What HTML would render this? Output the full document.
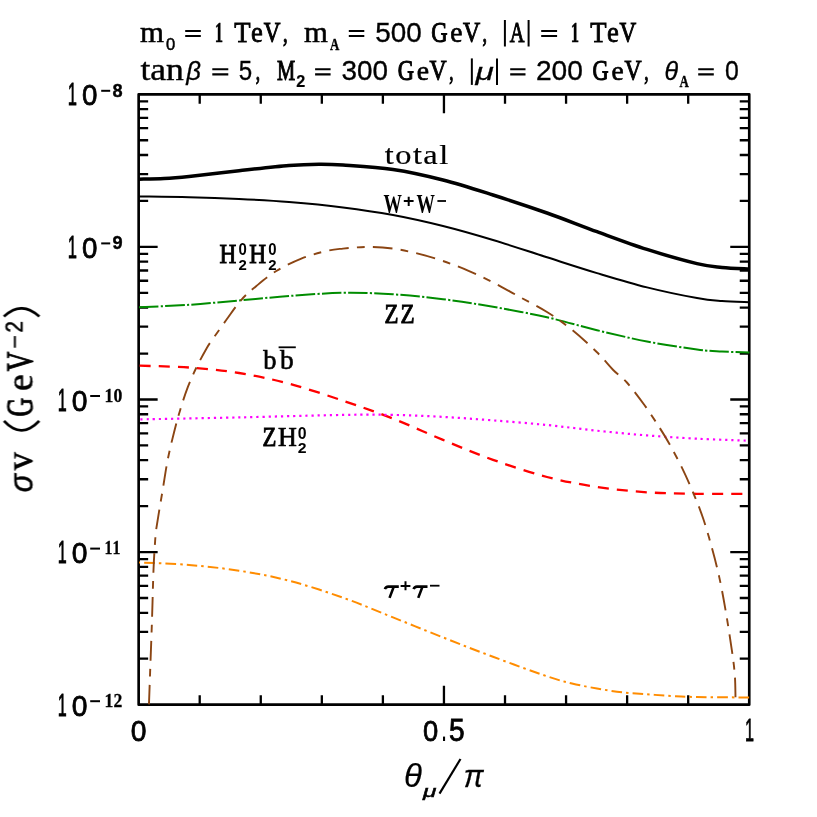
<!DOCTYPE html>
<html><head><meta charset="utf-8"><title>plot</title>
<style>
html,body{margin:0;padding:0;background:#fff;}
body{width:817px;height:817px;overflow:hidden;}
svg{display:block;}
text{font-family:"Liberation Serif",serif;fill:#000;font-kerning:none;font-variant-ligatures:none;}
.sans{font-family:"Liberation Sans",sans-serif;}
</style></head><body>
<svg width="817" height="817" viewBox="0 0 817 817">
<rect x="0" y="0" width="817" height="817" fill="#ffffff"/>

<path d="M138.65 200.95 L148.15 200.95 M749.25 200.95 L739.75 200.95 M138.65 174.08 L148.15 174.08 M749.25 174.08 L739.75 174.08 M138.65 155.02 L148.15 155.02 M749.25 155.02 L739.75 155.02 M138.65 140.23 L148.15 140.23 M749.25 140.23 L739.75 140.23 M138.65 128.15 L148.15 128.15 M749.25 128.15 L739.75 128.15 M138.65 117.94 L148.15 117.94 M749.25 117.94 L739.75 117.94 M138.65 109.09 L148.15 109.09 M749.25 109.09 L739.75 109.09 M138.65 101.28 L148.15 101.28 M749.25 101.28 L739.75 101.28 M138.65 246.89 L157.65 246.89 M749.25 246.89 L730.25 246.89 M138.65 353.54 L148.15 353.54 M749.25 353.54 L739.75 353.54 M138.65 326.67 L148.15 326.67 M749.25 326.67 L739.75 326.67 M138.65 307.61 L148.15 307.61 M749.25 307.61 L739.75 307.61 M138.65 292.82 L148.15 292.82 M749.25 292.82 L739.75 292.82 M138.65 280.74 L148.15 280.74 M749.25 280.74 L739.75 280.74 M138.65 270.52 L148.15 270.52 M749.25 270.52 L739.75 270.52 M138.65 261.67 L148.15 261.67 M749.25 261.67 L739.75 261.67 M138.65 253.87 L148.15 253.87 M749.25 253.87 L739.75 253.87 M138.65 399.48 L157.65 399.48 M749.25 399.48 L730.25 399.48 M138.65 506.13 L148.15 506.13 M749.25 506.13 L739.75 506.13 M138.65 479.26 L148.15 479.26 M749.25 479.26 L739.75 479.26 M138.65 460.20 L148.15 460.20 M749.25 460.20 L739.75 460.20 M138.65 445.41 L148.15 445.41 M749.25 445.41 L739.75 445.41 M138.65 433.33 L148.15 433.33 M749.25 433.33 L739.75 433.33 M138.65 423.11 L148.15 423.11 M749.25 423.11 L739.75 423.11 M138.65 414.26 L148.15 414.26 M749.25 414.26 L739.75 414.26 M138.65 406.46 L148.15 406.46 M749.25 406.46 L739.75 406.46 M138.65 552.06 L157.65 552.06 M749.25 552.06 L730.25 552.06 M138.65 658.72 L148.15 658.72 M749.25 658.72 L739.75 658.72 M138.65 631.85 L148.15 631.85 M749.25 631.85 L739.75 631.85 M138.65 612.78 L148.15 612.78 M749.25 612.78 L739.75 612.78 M138.65 598.00 L148.15 598.00 M749.25 598.00 L739.75 598.00 M138.65 585.91 L148.15 585.91 M749.25 585.91 L739.75 585.91 M138.65 575.70 L148.15 575.70 M749.25 575.70 L739.75 575.70 M138.65 566.85 L148.15 566.85 M749.25 566.85 L739.75 566.85 M138.65 559.04 L148.15 559.04 M749.25 559.04 L739.75 559.04 M199.71 704.65 L199.71 695.15 M199.71 94.30 L199.71 103.80 M260.77 704.65 L260.77 695.15 M260.77 94.30 L260.77 103.80 M321.83 704.65 L321.83 695.15 M321.83 94.30 L321.83 103.80 M382.89 704.65 L382.89 695.15 M382.89 94.30 L382.89 103.80 M443.95 704.65 L443.95 685.65 M443.95 94.30 L443.95 113.30 M505.01 704.65 L505.01 695.15 M505.01 94.30 L505.01 103.80 M566.07 704.65 L566.07 695.15 M566.07 94.30 L566.07 103.80 M627.13 704.65 L627.13 695.15 M627.13 94.30 L627.13 103.80 M688.19 704.65 L688.19 695.15 M688.19 94.30 L688.19 103.80" stroke="#000" stroke-width="2.30" fill="none"/>
<rect x="138.65" y="94.30" width="610.60" height="610.35" fill="none" stroke="#000" stroke-width="2.65" stroke-linejoin="round"/>
<g fill="none" stroke-linejoin="round">
<path d="M139.00 179.20 C143.17 179.10 155.67 179.05 164.00 178.60 C172.33 178.15 176.50 177.82 189.00 176.50 C201.50 175.18 222.33 172.53 239.00 170.70 C255.67 168.87 275.67 166.58 289.00 165.50 C302.33 164.42 310.00 164.28 319.00 164.20 C328.00 164.12 330.67 164.12 343.00 165.00 C355.33 165.88 376.33 167.00 393.00 169.50 C409.67 172.00 426.33 175.75 443.00 180.00 C459.67 184.25 475.67 189.50 493.00 195.00 C510.33 200.50 529.67 206.88 547.00 213.00 C564.33 219.12 580.33 225.63 597.00 231.70 C613.67 237.77 630.33 244.08 647.00 249.40 C663.67 254.72 684.50 260.60 697.00 263.60 C709.50 266.60 713.25 266.48 722.00 267.40 C730.75 268.32 744.92 268.82 749.50 269.10" stroke="#000" stroke-width="3.5"/>
<path d="M139.00 196.50 C147.33 196.62 172.33 196.78 189.00 197.20 C205.67 197.62 222.33 198.20 239.00 199.00 C255.67 199.80 271.67 200.60 289.00 202.00 C306.33 203.40 325.67 205.23 343.00 207.40 C360.33 209.57 376.33 211.90 393.00 215.00 C409.67 218.10 426.33 221.83 443.00 226.00 C459.67 230.17 475.67 234.78 493.00 240.00 C510.33 245.22 529.67 251.78 547.00 257.30 C564.33 262.82 580.33 268.08 597.00 273.10 C613.67 278.12 630.33 283.23 647.00 287.40 C663.67 291.57 684.50 295.82 697.00 298.10 C709.50 300.38 713.25 300.40 722.00 301.10 C730.75 301.80 744.92 302.10 749.50 302.30" stroke="#000" stroke-width="2.0"/>
<path d="M139.00 307.30 C147.33 306.88 172.33 305.93 189.00 304.80 C205.67 303.67 222.33 301.97 239.00 300.50 C255.67 299.03 271.67 297.28 289.00 296.00 C306.33 294.72 325.67 293.08 343.00 292.80 C360.33 292.52 376.33 293.23 393.00 294.30 C409.67 295.37 426.33 297.12 443.00 299.20 C459.67 301.28 475.67 303.78 493.00 306.80 C510.33 309.82 529.67 313.40 547.00 317.30 C564.33 321.20 580.33 326.17 597.00 330.20 C613.67 334.23 630.33 338.28 647.00 341.50 C663.67 344.72 684.50 347.83 697.00 349.50 C709.50 351.17 713.25 351.00 722.00 351.50 C730.75 352.00 744.92 352.33 749.50 352.50" stroke="#008c00" stroke-width="2.0" stroke-dasharray="19.5 2.3 2.2 2.2" stroke-dashoffset="0"/>
<path d="M139.00 365.70 C147.33 366.00 172.33 366.28 189.00 367.50 C205.67 368.72 222.33 370.30 239.00 373.00 C255.67 375.70 271.67 379.08 289.00 383.70 C306.33 388.32 325.67 394.88 343.00 400.70 C360.33 406.52 376.33 412.07 393.00 418.60 C409.67 425.13 426.33 433.03 443.00 439.90 C459.67 446.77 475.67 453.62 493.00 459.80 C510.33 465.98 529.67 472.48 547.00 477.00 C564.33 481.52 580.33 484.35 597.00 486.90 C613.67 489.45 630.33 491.15 647.00 492.30 C663.67 493.45 679.92 493.55 697.00 493.80 C714.08 494.05 740.75 493.80 749.50 493.80" stroke="#ff0000" stroke-width="2.3" stroke-dasharray="11.05 8.04" stroke-dashoffset="-0.7"/>
<path d="M139.00 419.40 C155.67 419.07 205.00 418.15 239.00 417.40 C273.00 416.65 317.33 415.32 343.00 414.90 C368.67 414.48 376.33 414.57 393.00 414.90 C409.67 415.23 426.33 415.98 443.00 416.90 C459.67 417.82 475.67 419.05 493.00 420.40 C510.33 421.75 529.67 423.28 547.00 425.00 C564.33 426.72 580.33 428.97 597.00 430.70 C613.67 432.43 630.33 434.07 647.00 435.40 C663.67 436.73 679.92 437.82 697.00 438.70 C714.08 439.58 740.75 440.37 749.50 440.70" stroke="#ff00ff" stroke-width="2.2" stroke-dasharray="2.2 3.9" stroke-dashoffset="4.45"/>
<path d="M139.00 562.40 C147.33 562.83 172.33 563.62 189.00 565.00 C205.67 566.38 222.33 568.08 239.00 570.70 C255.67 573.32 271.67 576.20 289.00 580.70 C306.33 585.20 325.67 591.58 343.00 597.70 C360.33 603.82 376.33 610.78 393.00 617.40 C409.67 624.02 426.33 630.83 443.00 637.40 C459.67 643.97 475.67 650.32 493.00 656.80 C510.33 663.28 533.83 671.85 547.00 676.30 C560.17 680.75 563.67 681.47 572.00 683.50 C580.33 685.53 588.67 687.03 597.00 688.50 C605.33 689.97 613.67 691.33 622.00 692.30 C630.33 693.27 638.67 693.68 647.00 694.30 C655.33 694.92 663.67 695.55 672.00 696.00 C680.33 696.45 684.08 696.75 697.00 697.00 C709.92 697.25 740.75 697.42 749.50 697.50" stroke="#ff8c00" stroke-width="2.0" stroke-dasharray="10.6 4 2.5 4.1" stroke-dashoffset="15.9"/>
<path d="M148.97 704.40 C149.18 698.67 149.69 684.07 150.20 670.00 C150.70 655.93 151.45 636.67 152.00 620.00 C152.55 603.33 152.97 583.33 153.50 570.00 C154.03 556.67 154.70 547.12 155.20 540.00 C155.70 532.88 155.25 535.67 156.50 527.30 C157.75 518.93 160.83 501.05 162.70 489.80 C164.57 478.55 165.82 469.37 167.70 459.80 C169.58 450.23 171.92 440.72 174.00 432.40 C176.08 424.08 177.92 417.40 180.20 409.90 C182.48 402.40 185.00 394.47 187.70 387.40 C190.40 380.33 193.28 373.95 196.40 367.50 C199.52 361.05 203.90 353.12 206.40 348.70 C208.90 344.28 208.07 345.82 211.40 341.00 C214.73 336.18 221.40 326.67 226.40 319.80 C231.40 312.93 236.40 305.43 241.40 299.80 C246.40 294.17 250.58 290.80 256.40 286.00 C262.22 281.20 268.82 275.57 276.30 271.00 C283.78 266.43 292.97 261.93 301.30 258.60 C309.63 255.27 319.35 252.67 326.30 251.00 C333.25 249.33 336.05 249.28 343.00 248.60 C349.95 247.92 359.67 246.90 368.00 246.90 C376.33 246.90 384.67 247.48 393.00 248.60 C401.33 249.72 409.67 251.53 418.00 253.60 C426.33 255.67 434.67 258.17 443.00 261.00 C451.33 263.83 459.67 267.05 468.00 270.60 C476.33 274.15 484.67 278.07 493.00 282.30 C501.33 286.53 509.00 291.05 518.00 296.00 C527.00 300.95 538.00 306.37 547.00 312.00 C556.00 317.63 563.67 323.08 572.00 329.80 C580.33 336.52 590.13 345.60 597.00 352.30 C603.87 359.00 608.22 364.97 613.20 370.00 C618.18 375.03 621.70 376.67 626.90 382.50 C632.10 388.33 638.98 397.52 644.40 405.00 C649.82 412.48 655.25 420.95 659.40 427.40 C663.55 433.85 665.57 437.03 669.30 443.70 C673.03 450.37 677.85 459.30 681.80 467.40 C685.75 475.50 689.47 483.87 693.00 492.30 C696.53 500.73 699.87 508.80 703.00 518.00 C706.13 527.20 709.08 537.60 711.80 547.50 C714.52 557.40 717.02 567.00 719.30 577.40 C721.58 587.80 723.42 597.83 725.50 609.90 C727.58 621.97 730.25 638.98 731.80 649.80 C733.35 660.62 734.18 666.88 734.80 674.80 C735.42 682.72 735.38 693.55 735.50 697.30" stroke="#8b4513" stroke-width="1.9" stroke-dasharray="19.676 8.232 7.730 8.232" stroke-dashoffset="0"/>
</g>
<g style="will-change:opacity" opacity="0.999">
<text class="serif" transform="translate(140.00,41.90) scale(1.0763,1.0000)" font-size="28.66" stroke="#000" stroke-width="0.50">m</text>
<text class="sans" transform="translate(166.10,49.80) scale(1.0131,1.0000)" font-size="16.33" stroke="#000" stroke-width="0.50">0</text>
<path d="M185.20 31.00 H200.80 M185.20 36.00 H200.80" stroke="#000" stroke-width="2.10" fill="none"/>
<text class="serif" transform="translate(214.80,41.90) scale(0.5647,1.0000)" font-size="29.39" font-weight="bold" stroke="#000" stroke-width="0.50">1</text>
<text class="serif" transform="translate(234.30,41.90) scale(0.9007,1.0000)" font-size="29.62" stroke="#000" stroke-width="0.85">T</text>
<text class="serif" transform="translate(251.00,41.90) scale(0.9272,1.0000)" font-size="28.66" stroke="#000" stroke-width="0.80">e</text>
<text class="serif" transform="translate(263.70,41.90) scale(0.7809,1.0000)" font-size="29.62" stroke="#000" stroke-width="1.09">V</text>
<text class="serif" transform="translate(282.90,41.90) scale(0.6815,1.0000)" font-size="27.00" stroke="#000" stroke-width="1.10">,</text>
<text class="serif" transform="translate(304.00,41.90) scale(1.0718,1.0000)" font-size="28.66" stroke="#000" stroke-width="0.51">m</text>
<text class="serif" transform="translate(330.00,49.80) scale(0.7457,1.0000)" font-size="17.27" font-weight="bold" stroke="#000" stroke-width="0.40">A</text>
<path d="M348.80 31.00 H364.30 M348.80 36.00 H364.30" stroke="#000" stroke-width="2.10" fill="none"/>
<text class="sans" transform="translate(375.30,41.90) scale(1.0028,1.0000)" font-size="27.79" stroke="#000" stroke-width="0.35">500</text>
<text class="serif" transform="translate(431.20,41.90) scale(0.7704,1.0000)" font-size="29.31" stroke="#000" stroke-width="1.10">G</text>
<text class="serif" transform="translate(450.20,41.90) scale(0.9587,1.0000)" font-size="28.66" stroke="#000" stroke-width="0.73">e</text>
<text class="serif" transform="translate(463.00,41.90) scale(0.8043,1.0000)" font-size="29.62" stroke="#000" stroke-width="1.04">V</text>
<text class="serif" transform="translate(482.60,41.90) scale(0.6667,1.0000)" font-size="27.00" stroke="#000" stroke-width="1.10">,</text>
<path d="M504.90 20.00 V46.50" stroke="#000" stroke-width="2.00" fill="none"/>
<path d="M528.60 20.00 V46.50" stroke="#000" stroke-width="2.00" fill="none"/>
<text class="serif" transform="translate(509.80,41.90) scale(0.6927,1.0000)" font-size="29.39" stroke="#000" stroke-width="1.10">A</text>
<path d="M541.20 31.00 H557.10 M541.20 36.00 H557.10" stroke="#000" stroke-width="2.10" fill="none"/>
<text class="serif" transform="translate(570.70,41.90) scale(0.5647,1.0000)" font-size="29.39" font-weight="bold" stroke="#000" stroke-width="0.50">1</text>
<text class="serif" transform="translate(590.20,41.90) scale(0.9007,1.0000)" font-size="29.62" stroke="#000" stroke-width="0.85">T</text>
<text class="serif" transform="translate(606.90,41.90) scale(0.9272,1.0000)" font-size="28.66" stroke="#000" stroke-width="0.80">e</text>
<text class="serif" transform="translate(619.60,41.90) scale(0.7809,1.0000)" font-size="29.62" stroke="#000" stroke-width="1.09">V</text>
<text class="serif" transform="translate(140.40,79.80) scale(1.1262,1.0000)" font-size="31.62" stroke="#000" stroke-width="0.40">tan</text>
<text class="sans" transform="translate(186.34,79.80) scale(0.9796,1.0000)" font-size="26.21" font-style="italic" stroke="#000" stroke-width="0.30">β</text>
<path d="M212.30 69.30 H228.30 M212.30 74.40 H228.30" stroke="#000" stroke-width="2.10" fill="none"/>
<text class="sans" transform="translate(238.70,79.80) scale(0.8727,1.0000)" font-size="27.62" stroke="#000" stroke-width="0.35">5</text>
<text class="serif" transform="translate(255.80,79.80) scale(0.6370,1.0000)" font-size="27.00" stroke="#000" stroke-width="1.10">,</text>
<text class="serif" transform="translate(277.00,79.80) scale(0.7058,1.0000)" font-size="29.01" stroke="#000" stroke-width="1.10">M</text>
<text class="sans" transform="translate(296.30,87.00) scale(1.0271,1.0000)" font-size="15.76" font-weight="bold" stroke="#000" stroke-width="0.20">2</text>
<path d="M315.10 69.30 H330.60 M315.10 74.40 H330.60" stroke="#000" stroke-width="2.10" fill="none"/>
<text class="sans" transform="translate(341.40,79.80) scale(1.0239,1.0000)" font-size="27.22" stroke="#000" stroke-width="0.35">300</text>
<text class="serif" transform="translate(397.70,79.80) scale(0.7866,1.0000)" font-size="28.70" stroke="#000" stroke-width="1.08">G</text>
<text class="serif" transform="translate(416.70,79.80) scale(1.0194,1.0000)" font-size="27.18" stroke="#000" stroke-width="0.61">e</text>
<text class="serif" transform="translate(429.60,79.80) scale(0.8165,1.0000)" font-size="29.01" stroke="#000" stroke-width="1.02">V</text>
<text class="serif" transform="translate(449.20,79.80) scale(0.6222,1.0000)" font-size="27.00" stroke="#000" stroke-width="1.10">,</text>
<path d="M471.85 58.40 V84.90" stroke="#000" stroke-width="2.00" fill="none"/>
<path d="M497.00 58.40 V84.90" stroke="#000" stroke-width="2.00" fill="none"/>
<text class="sans" transform="translate(475.40,79.80) scale(1.3667,1.0000)" font-size="24.43" font-style="italic" stroke="#000" stroke-width="0.30">μ</text>
<path d="M510.20 69.30 H525.50 M510.20 74.40 H525.50" stroke="#000" stroke-width="2.10" fill="none"/>
<text class="sans" transform="translate(535.90,79.80) scale(1.0328,1.0000)" font-size="27.22" stroke="#000" stroke-width="0.35">200</text>
<text class="serif" transform="translate(592.40,79.80) scale(0.7769,1.0000)" font-size="28.70" stroke="#000" stroke-width="1.10">G</text>
<text class="serif" transform="translate(611.60,79.80) scale(1.0111,1.0000)" font-size="27.18" stroke="#000" stroke-width="0.63">e</text>
<text class="serif" transform="translate(624.50,79.80) scale(0.8165,1.0000)" font-size="29.01" stroke="#000" stroke-width="1.02">V</text>
<text class="serif" transform="translate(644.30,79.80) scale(0.6370,1.0000)" font-size="27.00" stroke="#000" stroke-width="1.10">,</text>
<text class="sans" transform="translate(664.50,79.80) scale(0.9575,1.0000)" font-size="26.21" font-style="italic" stroke="#000" stroke-width="0.30">θ</text>
<text class="serif" transform="translate(679.50,87.30) scale(0.7659,1.0000)" font-size="16.82" font-weight="bold" stroke="#000" stroke-width="0.40">A</text>
<path d="M698.20 69.30 H713.80 M698.20 74.40 H713.80" stroke="#000" stroke-width="2.10" fill="none"/>
<text class="sans" transform="translate(725.00,79.80) scale(0.9118,1.0000)" font-size="27.22" stroke="#000" stroke-width="0.35">0</text>
<text class="sans" transform="translate(67.70,105.30) scale(0.5421,1.0000)" font-size="30.52" stroke="#000" stroke-width="0.80">1</text>
<text class="sans" transform="translate(82.10,105.30) scale(0.9206,1.0000)" font-size="30.09" stroke="#000" stroke-width="0.80">0</text>
<path d="M101.20 90.80 H110.20" stroke="#000" stroke-width="2.00" fill="none"/>
<text class="sans" transform="translate(112.40,96.70) scale(0.9606,1.0000)" font-size="18.91" font-weight="bold" stroke="#000" stroke-width="0.40">8</text>
<text class="sans" transform="translate(67.70,257.90) scale(0.5421,1.0000)" font-size="30.52" stroke="#000" stroke-width="0.80">1</text>
<text class="sans" transform="translate(82.10,257.90) scale(0.9206,1.0000)" font-size="30.09" stroke="#000" stroke-width="0.80">0</text>
<path d="M101.20 243.40 H110.20" stroke="#000" stroke-width="2.00" fill="none"/>
<text class="sans" transform="translate(112.40,249.30) scale(0.9606,1.0000)" font-size="18.91" font-weight="bold" stroke="#000" stroke-width="0.40">9</text>
<text class="sans" transform="translate(57.70,410.50) scale(0.5303,1.0000)" font-size="30.52" stroke="#000" stroke-width="0.80">1</text>
<text class="sans" transform="translate(71.80,410.50) scale(0.9386,1.0000)" font-size="30.09" stroke="#000" stroke-width="0.80">0</text>
<path d="M90.20 396.00 H100.00" stroke="#000" stroke-width="2.00" fill="none"/>
<text class="serif" transform="translate(104.60,401.80) scale(0.8985,1.0000)" font-size="19.70" font-weight="bold" stroke="#000" stroke-width="0.30">10</text>
<text class="sans" transform="translate(57.70,563.10) scale(0.5303,1.0000)" font-size="30.52" stroke="#000" stroke-width="0.80">1</text>
<text class="sans" transform="translate(71.80,563.10) scale(0.9386,1.0000)" font-size="30.09" stroke="#000" stroke-width="0.80">0</text>
<path d="M90.20 548.60 H100.00" stroke="#000" stroke-width="2.00" fill="none"/>
<text class="serif" transform="translate(104.60,554.40) scale(0.8011,1.0000)" font-size="19.85" font-weight="bold" stroke="#000" stroke-width="0.30">11</text>
<text class="sans" transform="translate(57.70,715.70) scale(0.5303,1.0000)" font-size="30.52" stroke="#000" stroke-width="0.80">1</text>
<text class="sans" transform="translate(71.80,715.70) scale(0.9386,1.0000)" font-size="30.09" stroke="#000" stroke-width="0.80">0</text>
<path d="M90.20 701.20 H100.00" stroke="#000" stroke-width="2.00" fill="none"/>
<text class="serif" transform="translate(104.60,707.00) scale(0.8945,1.0000)" font-size="19.79" font-weight="bold" stroke="#000" stroke-width="0.30">12</text>
<text class="sans" transform="translate(130.80,740.50) scale(0.9341,1.0000)" font-size="30.23" stroke="#000" stroke-width="0.80">0</text>
<text class="sans" transform="translate(423.00,740.50) scale(0.9044,1.0000)" font-size="30.23" stroke="#000" stroke-width="0.80">0</text>
<text class="sans" transform="translate(441.90,740.50) scale(0.4916,1.0000)" font-size="30.00" font-weight="bold">.</text>
<text class="sans" transform="translate(449.00,740.50) scale(0.9149,1.0000)" font-size="30.67" stroke="#000" stroke-width="0.80">5</text>
<text class="sans" transform="translate(745.00,740.50) scale(0.5278,1.0000)" font-size="30.67" stroke="#000" stroke-width="0.80">1</text>
<text class="sans" transform="translate(404.00,787.30) scale(0.9773,1.0000)" font-size="33.79" font-style="italic" stroke="#000" stroke-width="0.20">θ</text>
<text class="sans" transform="translate(423.11,796.50) scale(1.4657,1.0000)" font-size="16.67" font-style="italic" stroke="#000" stroke-width="0.50">μ</text>
<path d="M439.5 793.6 L460.5 759" stroke="#000" stroke-width="2.2" fill="none"/>
<text class="sans" transform="translate(463.70,786.70) scale(0.9356,1.0000)" font-size="31.63" font-style="italic" stroke="#000" stroke-width="0.30">π</text>
<g transform="translate(32.5,0) rotate(-90)">
<text class="sans" transform="translate(-492.20,0.00) scale(0.9118,1.0000)" font-size="33.33" font-style="italic" stroke="#000" stroke-width="0.50">σ</text>
<text class="serif" transform="translate(-470.20,0.00) scale(0.9441,1.0000)" font-size="38.34" stroke="#000" stroke-width="0.66">v</text>
<path d="M-420.90 -28.60 Q-439.90 -10.90 -420.90 6.80" stroke="#000" stroke-width="2.70" fill="none"/>
<text class="serif" transform="translate(-416.60,0.00) scale(0.6886,1.0000)" font-size="37.61" stroke="#000" stroke-width="1.10">G</text>
<text class="serif" transform="translate(-390.90,0.00) scale(1.0126,1.0000)" font-size="37.37" stroke="#000" stroke-width="0.52">e</text>
<text class="serif" transform="translate(-371.30,0.00) scale(0.7228,1.0000)" font-size="37.56" stroke="#000" stroke-width="1.10">V</text>
<path d="M-347.70 -17.60 H-336.10" stroke="#000" stroke-width="2.00" fill="none"/>
<text class="sans" transform="translate(-332.40,-9.90) scale(0.8674,1.0000)" font-size="23.64" stroke="#000" stroke-width="0.60">2</text>
<path d="M-316.50 -28.60 Q-300.10 -10.90 -316.50 6.80" stroke="#000" stroke-width="2.70" fill="none"/>
</g>
<text class="serif" transform="translate(384.80,163.80) scale(1.2200,1.0000)" font-size="26.51" stroke="#000" stroke-width="0.21" letter-spacing="1.210">total</text>
<text class="serif" transform="translate(383.60,213.30) scale(0.6659,1.0000)" font-size="27.63" font-weight="bold">W</text>
<path d="M403.80 201.00 H413.60 M408.70 196.80 V206.00" stroke="#000" stroke-width="2.00" fill="none"/>
<text class="serif" transform="translate(416.60,213.30) scale(0.6659,1.0000)" font-size="27.63" font-weight="bold">W</text>
<path d="M437.40 201.00 H446.00" stroke="#000" stroke-width="1.80" fill="none"/>
<text class="serif" transform="translate(219.50,262.90) scale(0.8283,1.0000)" font-size="28.09" stroke="#000" stroke-width="0.99">H</text>
<text class="sans" transform="translate(238.40,255.20) scale(0.9140,1.0000)" font-size="16.33" font-weight="bold">0</text>
<text class="sans" transform="translate(238.40,269.90) scale(1.0019,1.0000)" font-size="14.90" font-weight="bold">2</text>
<text class="serif" transform="translate(249.30,262.90) scale(0.8283,1.0000)" font-size="28.09" stroke="#000" stroke-width="0.99">H</text>
<text class="sans" transform="translate(268.20,255.20) scale(0.9140,1.0000)" font-size="16.33" font-weight="bold">0</text>
<text class="sans" transform="translate(268.20,269.90) scale(1.0019,1.0000)" font-size="14.90" font-weight="bold">2</text>
<text class="serif" transform="translate(384.40,323.30) scale(0.8338,1.0000)" font-size="27.48" stroke="#000" stroke-width="0.98">Z</text>
<text class="serif" transform="translate(400.60,323.30) scale(0.8397,1.0000)" font-size="27.48" stroke="#000" stroke-width="0.97">Z</text>
<text class="serif" transform="translate(263.20,369.10) scale(0.9904,1.0000)" font-size="26.66" stroke="#000" stroke-width="0.67">b</text>
<text class="serif" transform="translate(280.10,369.10) scale(1.0279,1.0000)" font-size="26.66" stroke="#000" stroke-width="0.59">b</text>
<path d="M278.60 347.30 H295.80" stroke="#000" stroke-width="1.80" fill="none"/>
<text class="serif" transform="translate(262.50,445.70) scale(0.8325,1.0000)" font-size="27.33" stroke="#000" stroke-width="0.99">Z</text>
<text class="serif" transform="translate(277.90,445.70) scale(0.9528,1.0000)" font-size="27.33" stroke="#000" stroke-width="0.74">H</text>
<text class="sans" transform="translate(297.70,438.70) scale(0.9362,1.0000)" font-size="16.91" font-weight="bold">0</text>
<text class="sans" transform="translate(297.70,453.10) scale(1.0726,1.0000)" font-size="14.76" font-weight="bold">2</text>
<path d="M384.90 589.20 Q385.70 586.60 388.30 586.60 L398.80 586.60 M393.80 586.60 L389.54 597.90" stroke="#000" stroke-width="2.60" fill="none"/>
<path d="M400.60 585.90 H410.40 M405.50 581.30 V590.20" stroke="#000" stroke-width="2.00" fill="none"/>
<path d="M413.60 589.20 Q414.40 586.60 417.00 586.60 L427.50 586.60 M422.50 586.60 L418.24 597.90" stroke="#000" stroke-width="2.60" fill="none"/>
<path d="M430.00 585.70 H439.50" stroke="#000" stroke-width="1.80" fill="none"/>
</g>
</svg></body></html>
